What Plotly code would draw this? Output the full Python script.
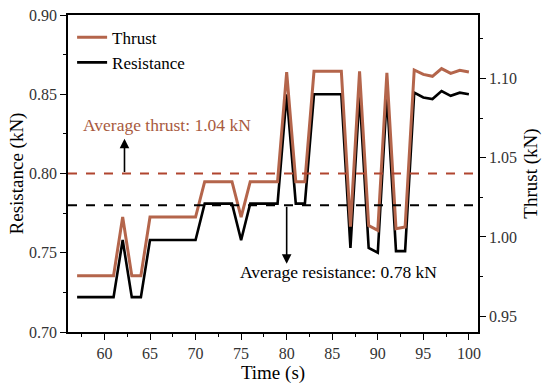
import plotly.graph_objects as go

time_s = list(range(57, 101))
resistance = [0.722, 0.722, 0.722, 0.722, 0.722,   # 57-61
              0.758, 0.722, 0.722,                 # 62-64
              0.758, 0.758, 0.758, 0.758, 0.758, 0.758,  # 65-70
              0.781, 0.781, 0.781, 0.781,          # 71-74
              0.758,                               # 75
              0.781, 0.781, 0.781, 0.781,          # 76-79
              0.850, 0.781, 0.781,                 # 80-82
              0.850, 0.850, 0.850, 0.850,          # 83-86
              0.753, 0.850, 0.753, 0.750, 0.850, 0.751, 0.751,  # 87-93
              0.851, 0.848, 0.847, 0.852, 0.849, 0.851, 0.850]  # 94-100
thrust = [0.9755, 0.9755, 0.9755, 0.9755, 0.9755,
          1.0125, 0.9755, 0.9755,
          1.0125, 1.0125, 1.0125, 1.0125, 1.0125, 1.0125,
          1.0348, 1.0348, 1.0348, 1.0348,
          1.0125,
          1.0348, 1.0348, 1.0348, 1.0348,
          1.1040, 1.0348, 1.0348,
          1.1045, 1.1045, 1.1045, 1.1045,
          1.0065, 1.1045, 1.0072, 1.0041, 1.1035, 1.0051, 1.0062,
          1.1053, 1.1025, 1.1013, 1.1062, 1.1032, 1.1051, 1.1041]

avg_thrust = 1.04
avg_resistance = 0.78

thrust_color = "#b4654b"
font_family = "Liberation Serif"

fig = go.Figure()
fig.add_trace(go.Scatter(x=time_s, y=thrust, name="Thrust", yaxis="y2", mode="lines",
                         line=dict(color=thrust_color, width=3)))
fig.add_trace(go.Scatter(x=time_s, y=resistance, name="Resistance", yaxis="y", mode="lines",
                         line=dict(color="black", width=2.6)))

# average lines
fig.add_shape(type="line", xref="paper", x0=0, x1=1, yref="y2", y0=avg_thrust, y1=avg_thrust,
              line=dict(color="#b0452f", width=2, dash="dash"))
fig.add_shape(type="line", xref="paper", x0=0, x1=1, yref="y", y0=avg_resistance, y1=avg_resistance,
              line=dict(color="black", width=2, dash="dash"))

fig.add_annotation(x=57.4, y=0.8308, xref="x", yref="y", xanchor="left", yanchor="middle",
                   text=f"Average thrust: {avg_thrust:.2f} kN", showarrow=False,
                   font=dict(family=font_family, size=17.5, color="#a85a3e"))
fig.add_annotation(x=74.7, y=0.738, xref="x", yref="y", xanchor="left", yanchor="middle",
                   text=f"Average resistance: {avg_resistance:.2f} kN", showarrow=False,
                   font=dict(family=font_family, size=17.5, color="black"))
# arrows
fig.add_annotation(x=62.2, y=0.822, ax=62.2, ay=0.80, xref="x", yref="y", axref="x", ayref="y",
                   text="", showarrow=True, arrowhead=2, arrowsize=1.2, arrowwidth=1.6, arrowcolor="black")
fig.add_annotation(x=80.0, y=0.743, ax=80.0, ay=0.78, xref="x", yref="y", axref="x", ayref="y",
                   text="", showarrow=True, arrowhead=2, arrowsize=1.2, arrowwidth=1.6, arrowcolor="black")

tickfont = dict(family=font_family, size=16, color="#333")
titlefont = dict(family=font_family, size=19, color="black")

fig.update_layout(
    width=550, height=391,
    margin=dict(l=68, r=72, t=15, b=59),
    paper_bgcolor="white", plot_bgcolor="white",
    font=dict(family=font_family),
    showlegend=True,
    legend=dict(x=0.01, y=0.985, xanchor="left", yanchor="top", bgcolor="rgba(0,0,0,0)",
                font=dict(family=font_family, size=17, color="black"), tracegroupgap=0),
    xaxis=dict(range=[56, 101], dtick=5, tick0=60, showgrid=False, zeroline=False, automargin=False,
               showline=True, linecolor="black", linewidth=1.5, mirror=True,
               ticks="outside", ticklen=6, tickcolor="black", tickwidth=1.2,
               minor=dict(ticks="outside", ticklen=3, dtick=2.5, tick0=60, tickcolor="black"),
               tickfont=tickfont,
               title=dict(text="Time (s)", font=titlefont, standoff=4)),
    yaxis=dict(range=[0.70, 0.90], dtick=0.05, tick0=0.70, tickformat=".2f", showgrid=False, zeroline=False,
               automargin=False,
               showline=True, linecolor="black", linewidth=1.5,
               ticks="outside", ticklen=6, tickcolor="black", tickwidth=1.2,
               minor=dict(ticks="outside", ticklen=3, dtick=0.025, tick0=0.70, tickcolor="black"),
               tickfont=tickfont,
               title=dict(text="Resistance (kN)", font=titlefont, standoff=0)),
    yaxis2=dict(range=[0.94, 1.14], dtick=0.05, tick0=0.95, tickformat=".2f", overlaying="y", side="right",
                showgrid=False, zeroline=False, automargin=False,
                showline=True, linecolor="black", linewidth=1.5,
                ticks="outside", ticklen=6, tickcolor="black", tickwidth=1.2,
                minor=dict(ticks="outside", ticklen=3, dtick=0.025, tick0=0.95, tickcolor="black"),
                tickfont=tickfont,
                title=dict(text="Thrust (kN)", font=titlefont, standoff=8)),
)

fig.write_html("out.html", config={"displayModeBar": False},
               post_script="document.body.style.margin='0px';document.body.style.overflow='hidden';")
